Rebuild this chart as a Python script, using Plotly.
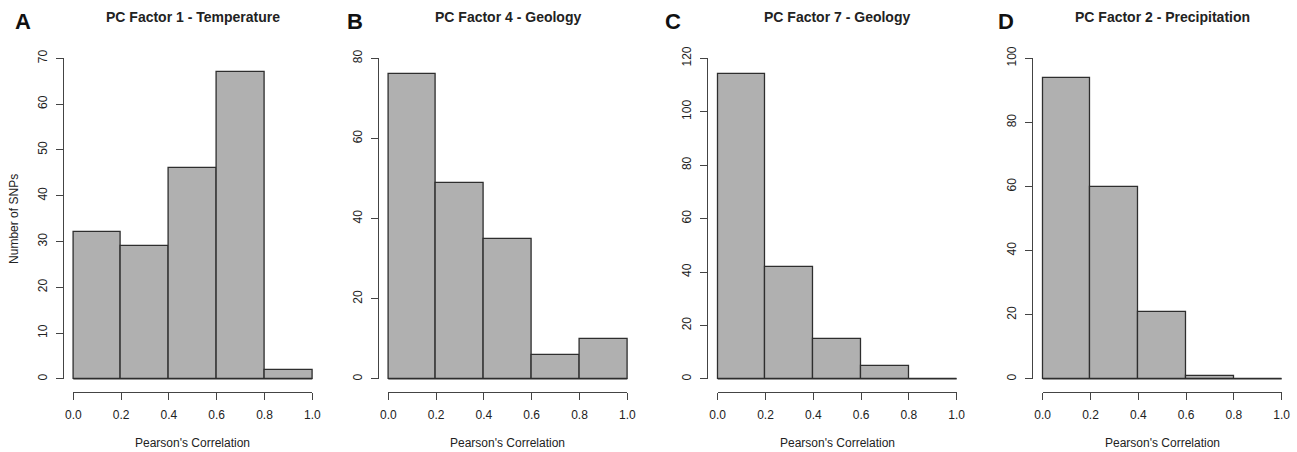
import plotly.graph_objects as go

# ---------------- data ----------------
bin_edges = [0.0, 0.2, 0.4, 0.6, 0.8, 1.0]
panel_letters = ["A", "B", "C", "D"]
panel_titles = ["PC Factor 1 - Temperature", "PC Factor 4 - Geology",
                "PC Factor 7 - Geology", "PC Factor 2 - Precipitation"]
counts_A = [32, 29, 46, 67, 2]
counts_B = [76, 49, 35, 6, 10]
counts_C = [114, 42, 15, 5, 0]
counts_D = [94, 60, 21, 1, 0]
y_max_ticks = [70, 80, 120, 100]
y_steps = [10, 20, 20, 20]
x_ticks = [0.0, 0.2, 0.4, 0.6, 0.8, 1.0]
x_tick_text = ["0.0", "0.2", "0.4", "0.6", "0.8", "1.0"]
x_title = "Pearson's Correlation"
y_title = "Number of SNPs"

all_counts = [counts_A, counts_B, counts_C, counts_D]

# ---------------- layout geometry (pixels) ----------------
W, H = 1297, 452
M_T, M_B = 50, 60
PLOT_BOTTOM = H - M_B
PLOT_H = H - M_T - M_B
x0_px = [73.3, 388.3, 717.7, 1042.7]   # pixel of x = 0
span_px = 239.0                          # pixel span of x 0..1
letter_x_px = [23, 354.5, 673, 1005.7]
X_RANGE = [-0.04, 1.04]

FONT = "Liberation Sans, Arial, Helvetica, sans-serif"
TXT = "#222222"
AX = "#444444"


def ypaper(py):
    return (PLOT_BOTTOM - py) / PLOT_H


fig = go.Figure()
layout = dict(
    width=W, height=H,
    margin=dict(l=0, r=0, t=M_T, b=M_B, pad=0),
    paper_bgcolor="white", plot_bgcolor="rgba(0,0,0,0)",
    showlegend=False, bargap=0,
    font=dict(family=FONT, size=12, color=TXT),
    template="none",
)
shapes = []
annotations = []

centers = [(bin_edges[i] + bin_edges[i + 1]) / 2 for i in range(len(bin_edges) - 1)]
widths = [bin_edges[i + 1] - bin_edges[i] for i in range(len(bin_edges) - 1)]

hidden_axis = dict(visible=False, showgrid=False, zeroline=False, fixedrange=True,
                   range=[0, 1])
line_axis = dict(showline=True, linecolor=AX, linewidth=1.4, ticks="",
                 showticklabels=False, showgrid=False, zeroline=False,
                 fixedrange=True, range=[0, 1])

for i, counts in enumerate(all_counts):
    k = "" if i == 0 else str(i + 1)
    xa, ya = "x" + k, "y" + k
    fig.add_trace(go.Bar(
        x=centers, y=counts, width=widths,
        marker=dict(color="#B0B0B0", line=dict(color="#2E2E2E", width=1.3)),
        xaxis=xa, yaxis=ya, hoverinfo="skip",
    ))
    plot_w = span_px * (X_RANGE[1] - X_RANGE[0])
    left = x0_px[i] + X_RANGE[0] * span_px
    dom = [left / W, (left + plot_w) / W]
    T = y_max_ticks[i]
    yt = list(range(0, T + 1, y_steps[i]))
    p0, pT = 378.9, 58.3
    per = (p0 - pT) / T
    lo = -(PLOT_BOTTOM - p0) / per
    hi = T + (pT - M_T) / per
    layout["xaxis" + k] = dict(
        domain=dom, range=X_RANGE, anchor=ya,
        tickvals=x_ticks, ticktext=x_tick_text,
        ticks="outside", ticklen=7, tickwidth=1.4, tickcolor=AX,
        showline=False, showgrid=False, zeroline=False,
        tickfont=dict(family=FONT, size=12, color=TXT),
        fixedrange=True, ticklabelstandoff=5,
    )
    layout["yaxis" + k] = dict(
        domain=[0, 1], range=[lo, hi], anchor=xa,
        tickvals=yt, ticktext=[str(v) for v in yt], tickangle=-90,
        ticks="outside", ticklen=7, tickwidth=1.4, tickcolor=AX,
        showline=False, showgrid=False, zeroline=False,
        tickfont=dict(family=FONT, size=12, color=TXT),
        fixedrange=True, ticklabelstandoff=4,
    )

    def xp(u, dom=dom):
        return dom[0] + (u - X_RANGE[0]) / (X_RANGE[1] - X_RANGE[0]) * (dom[1] - dom[0])

    def yp(v, lo=lo, hi=hi):
        return (v - lo) / (hi - lo)

    # --- R-style detached axis lines, drawn by helper axes ---
    nL, nB = 5 + 2 * i, 6 + 2 * i
    # vertical line from y=0 to top tick, at the left edge of the plot region
    layout["xaxis%d" % nL] = dict(hidden_axis, domain=[dom[0], dom[0] + 0.01],
                                  anchor="y%d" % nL)
    layout["yaxis%d" % nL] = dict(line_axis, domain=[yp(yt[0]), yp(yt[-1])],
                                  anchor="x%d" % nL, side="left")
    # horizontal line from x=0 to x=1 at the bottom of the plot region
    layout["xaxis%d" % nB] = dict(line_axis, domain=[xp(x_ticks[0]), xp(x_ticks[-1])],
                                  anchor="y%d" % nB, side="bottom")
    layout["yaxis%d" % nB] = dict(hidden_axis, domain=[0, 0.01], anchor="x%d" % nB)
    for n in (nL, nB):
        fig.add_trace(go.Scatter(x=[0.5], y=[0.5], mode="markers",
                                 marker=dict(opacity=0, size=1),
                                 xaxis="x%d" % n, yaxis="y%d" % n,
                                 hoverinfo="skip", showlegend=False))

    # baseline of histogram (zero-height bins)
    shapes.append(dict(type="line", xref=xa, yref=ya,
                       x0=bin_edges[0], x1=bin_edges[-1], y0=0, y1=0,
                       line=dict(color="#2E2E2E", width=1.3)))
    mid = (dom[0] + dom[1]) / 2
    annotations.append(dict(
        text=panel_titles[i], xref="paper", yref="paper",
        x=mid, y=ypaper(16.7), xanchor="center", yanchor="middle",
        showarrow=False, font=dict(family=FONT, size=14, color=TXT, weight="bold"),
    ))
    annotations.append(dict(
        text=panel_letters[i], xref="paper", yref="paper",
        x=letter_x_px[i] / W, y=ypaper(21.3), xanchor="center", yanchor="middle",
        showarrow=False, font=dict(family=FONT, size=22, color="#111111", weight="bold"),
    ))
    annotations.append(dict(
        text=x_title, xref="paper", yref="paper",
        x=mid, y=ypaper(443), xanchor="center", yanchor="middle",
        showarrow=False, font=dict(family=FONT, size=12, color=TXT),
    ))

annotations.append(dict(
    text=y_title, xref="paper", yref="paper",
    x=13.3 / W, y=ypaper(218.6), xanchor="center", yanchor="middle",
    textangle=-90, showarrow=False, font=dict(family=FONT, size=12, color=TXT),
))

layout["annotations"] = annotations
layout["shapes"] = shapes
fig.update_layout(**layout)
fig.write_html("out.html")
